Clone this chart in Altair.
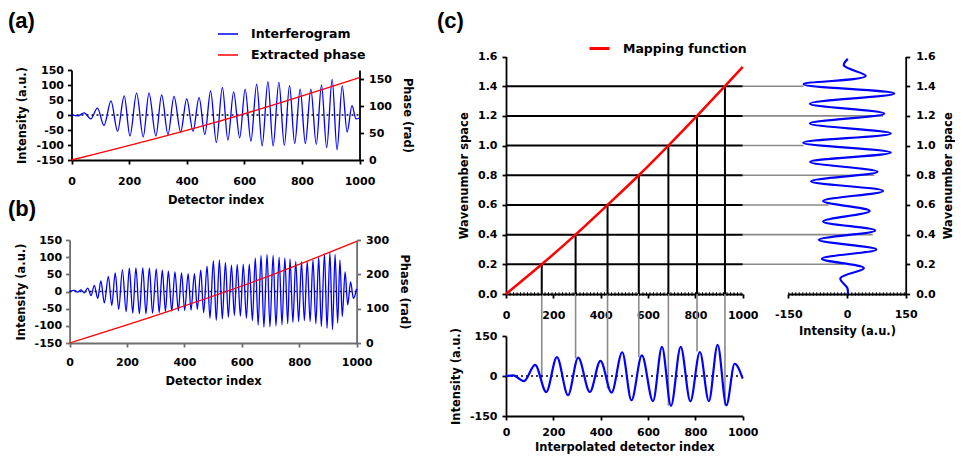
import altair as alt
import pandas as pd

# ---------------- data ----------------
# (a) interferogram: positions / values of successive extrema
a_idx = [0, 22, 44, 67, 90, 113, 137, 160, 183, 203,
         226, 249, 269, 293, 313, 335, 356, 379, 400, 422,
         443, 463, 483, 503, 524, 543, 563, 584, 603, 623,
         643, 662, 682, 700, 720, 739, 757, 775, 794, 812,
         831, 850, 868, 886, 905, 922, 940, 957, 974, 988, 1000]
a_int = [1, -3, 7, -13, 23, -35, 47, -54, 64, -70,
         73, -73, 73, -70, 67, -65, 62, -57, 54, -54,
         58, -65, 80, -92, 92, -84, 77, -76, 86, -87,
         103, -103, 111, -103, 109, -101, 98, -95, 86, -95,
         86, -98, 100, -109, 119, -116, 97, -57, 31, -13, -10]
a_phase_idx = [0, 490, 1000]
a_phase = [0, 68.5, 153]

# (b) interferogram
b_idx = [0, 16, 28, 40, 51, 63, 75, 86, 98, 109,
         121, 135, 147, 159, 171, 184, 197, 208, 220, 231,
         243, 255, 266, 278, 289, 302, 312, 323, 334, 344,
         356, 367, 379, 390, 401, 413, 423, 435, 445, 457,
         467, 479, 489, 501, 511, 522, 532, 543, 553, 564,
         574, 584, 595, 605, 616, 626, 637, 647, 657, 667,
         677, 688, 698, 709, 719, 730, 740, 750, 760, 768,
         778, 788, 798, 808, 818, 828, 838, 848, 858, 868,
         877, 888, 897, 907, 916, 925, 934, 942, 950, 960,
         969, 979, 989, 1000]
b_int = [0, 3, -2, 5, -4, 10, -12, 18, -20, 31,
         -33, 44, -41, 54, -52, 63, -59, 68, -63, 69,
         -65, 69, -65, 68, -63, 66, -62, 62, -58, 59,
         -57, 57, -56, 54, -55, 52, -54, 52, -52, 62,
         -62, 74, -78, 90, -84, 92, -80, 85, -75, 77,
         -70, 79, -72, 80, -78, 80, -85, 98, -98, 105,
         -104, 108, -103, 105, -100, 100, -97, 98, -94, 95,
         -90, 88, -88, 87, -85, 88, -88, 92, -94, 100,
         -102, 110, -107, 113, -111, 108, -92, 92, -73, 57,
         -39, 28, -20, 8]
b_phase_idx = [0, 336, 663, 1000]
b_phase = [0, 90, 185, 296]

# (c) mapping function
map_idx = [0, 151, 294, 429, 561, 686, 807, 925, 1000]
map_k = [0, 0.2, 0.4, 0.6, 0.8, 1.0, 1.2, 1.4, 1.53]
samp_idx = [151, 294, 429, 561, 686, 807, 925]
samp_k = [0.2, 0.4, 0.6, 0.8, 1.0, 1.2, 1.4]
samp_int = [-8, 66, -47, 70, -111, 92, -111]

# (c) bottom: resampled interferogram
c_idx = [0, 31, 76, 123, 170, 215, 262, 305, 354, 399, 446, 491, 530,
         574, 621, 659, 697, 738, 779, 819, 857, 894, 931, 966, 1000]
c_int = [0, 2, -19, 42, -60, 71, -72, 69, -60, 57, -62, 89, -91,
         77, -94, 109, -112, 109, -95, 90, -94, 117, -110, 46, -10]

# (c) right: interferogram in wavenumber space
r_k = [0, 0.04, 0.106, 0.174, 0.237, 0.30, 0.365, 0.428, 0.489, 0.559,
       0.626, 0.694, 0.759, 0.823, 0.89, 0.953, 1.019, 1.082, 1.149, 1.215,
       1.282, 1.35, 1.413, 1.469, 1.54, 1.584]
r_int = [2, 1, -17, 43, -64, 75, -72, 72, -61, 58,
         -61, 92, -92, 78, -94, 112, -112, 112, -95, 95,
         -95, 121, -111, 48, -8, 2]

# tick values
det_ticks = [0, 200, 400, 600, 800, 1000]
int_ticks_ab = [-150, -100, -50, 0, 50, 100, 150]
phase_ticks_a = [0, 50, 100, 150]
phase_ticks_b = [0, 100, 200, 300]
k_ticks = [0, 0.2, 0.4, 0.6, 0.8, 1.0, 1.2, 1.4, 1.6]
int_ticks_c = [-150, 0, 150]

# ---------------- layout (page pixels) ----------------
W, H, M = 947, 449, 8
FONT = "DejaVu Sans"
PA = dict(x0=71.5, x1=359.5, yt=70, yb=160)
PB = dict(x0=69.6, x1=356.6, yt=240, yb=343)
PC = dict(x0=506, x1=742.7, yt=56.5, yb=294)
PR = dict(x0=788.3, x1=905.7, yt=56.5, yb=294)
PD = dict(x0=506, x1=742.7, yt=336, yb=416)


def scale(domain, p0, p1):
    return alt.Scale(domain=domain, range=[p0 - M, p1 - M], nice=False, zero=False)


def axis(orient, pos, values, title, color="black", fmt=None, **kw):
    if orient == "bottom":
        off = (pos - M) - H
    elif orient == "left":
        off = -(pos - M)
    else:
        off = (pos - M) - W
    d = dict(orient=orient, offset=off, values=values, title=title,
             domainColor=color, tickColor=color, domainWidth=1.8, tickWidth=1.8,
             tickSize=4, labelFont=FONT, labelFontWeight="bold", labelFontSize=11,
             labelColor="black", titleFont=FONT, titleFontWeight="bold",
             titleFontSize=11.5, titleColor="black", grid=False,
             labelFlush=False, labelOverlap=False)
    d["labelExpr"] = f"format(datum.value, '{fmt}')" if fmt else "'' + datum.value"
    d.update(kw)
    return alt.Axis(**d)


def legend(x, y, sw):
    return alt.Legend(orient="none", legendX=x - M, legendY=y - M - 10, title=None,
                      symbolType="stroke", symbolSize=400, symbolStrokeWidth=sw,
                      labelFont=FONT, labelFontWeight="bold", labelFontSize=12.5,
                      labelColor="black", labelOffset=12, padding=0)


layers = []

# ---------- panel (a) ----------
xa = scale([0, 1000], PA["x0"], PA["x1"])
ya = scale([-150, 150], PA["yb"], PA["yt"])
pa = scale([0, 167], PA["yb"], PA["yt"])
dfa = pd.DataFrame({"idx": a_idx, "val": a_int, "s": "Interferogram"})
dfa_p = pd.DataFrame({"idx": a_phase_idx, "ph": a_phase, "s": "Extracted phase"})
zero_ab = pd.DataFrame({"x0": [0], "x1": [1000], "y": [0]})

layers.append(alt.Chart(zero_ab).mark_rule(color="black", strokeWidth=1.5, strokeDash=[2, 3]).encode(
    x=alt.X("x0:Q", scale=xa, axis=None), x2="x1:Q", y=alt.Y("y:Q", scale=ya, axis=None)))
layers.append(alt.Chart(dfa).mark_line(strokeWidth=1.3, interpolate="monotone").encode(
    x=alt.X("idx:Q", scale=xa, axis=axis("bottom", PA["yb"], det_ticks, "Detector index",
                                          labelPadding=11, titlePadding=8)),
    y=alt.Y("val:Q", scale=ya, axis=axis("left", PA["x0"], int_ticks_ab, "Intensity (a.u.)",
                                          labelPadding=4, titlePadding=8)),
    color=alt.Color("s:N", scale=alt.Scale(domain=["Interferogram"], range=["#0000ff"]),
                    legend=legend(217, 33, 1.5))))
layers.append(alt.Chart(dfa_p).mark_line(strokeWidth=1.3, interpolate="monotone").encode(
    x=alt.X("idx:Q", scale=xa, axis=None),
    y=alt.Y("ph:Q", scale=pa, axis=axis("right", PA["x1"], phase_ticks_a, "Phase (rad)",
                                         labelPadding=5, titlePadding=10)),
    color=alt.Color("s:N", scale=alt.Scale(domain=["Extracted phase"], range=["#ff0000"]),
                    legend=legend(217, 54, 1.5))))

# ---------- panel (b) ----------
xb = scale([0, 1000], PB["x0"], PB["x1"])
yb = scale([-150, 150], PB["yb"], PB["yt"])
pb = scale([0, 300], PB["yb"], PB["yt"])
dfb = pd.DataFrame({"idx": b_idx, "val": b_int})
dfb_p = pd.DataFrame({"idx": b_phase_idx, "ph": b_phase})
GB = "#6e6e6e"
layers.append(alt.Chart(zero_ab).mark_rule(color="black", strokeWidth=1.5, strokeDash=[2, 3]).encode(
    x=alt.X("x0:Q", scale=xb, axis=None), x2="x1:Q", y=alt.Y("y:Q", scale=yb, axis=None)))
layers.append(alt.Chart(dfb).mark_line(strokeWidth=1.3, color="#0000ff", interpolate="monotone").encode(
    x=alt.X("idx:Q", scale=xb, axis=axis("bottom", PB["yb"], det_ticks, "Detector index", color=GB,
                                          labelPadding=9, titlePadding=8)),
    y=alt.Y("val:Q", scale=yb, axis=axis("left", PB["x0"], int_ticks_ab, "Intensity (a.u.)", color=GB,
                                          labelPadding=4, titlePadding=8))))
layers.append(alt.Chart(dfb_p).mark_line(strokeWidth=1.3, color="#ff0000", interpolate="monotone").encode(
    x=alt.X("idx:Q", scale=xb, axis=None),
    y=alt.Y("ph:Q", scale=pb, axis=axis("right", PB["x1"], phase_ticks_b, "Phase (rad)", color=GB,
                                         labelPadding=5, titlePadding=10))))

# ---------- panel (c) main ----------
xc = scale([0, 1000], PC["x0"], PC["x1"])
yc = scale([0, 1.6], PC["yb"], PC["yt"])
dfs = pd.DataFrame({"idx": samp_idx, "k": samp_k, "val": samp_int,
                    "x0": 0, "x1": 1000, "k0": 0.0})
dfm = pd.DataFrame({"idx": map_idx, "k": map_k, "s": "Mapping function"})

# right panel scales
xr = scale([-150, 150], PR["x0"], PR["x1"])
yr = scale([0, 1.6], PR["yb"], PR["yt"])
# bottom panel scales
xd = scale([0, 1000], PD["x0"], PD["x1"])
yd = scale([-150, 150], PD["yb"], PD["yt"])

# connector extents (from the main plot's edges into the side panels)
ext_r = -150 - (PR["x0"] - PC["x1"]) * 300 / (PR["x1"] - PR["x0"])
ext_d = 150 + (PD["yt"] - PC["yb"]) * 300 / (PD["yb"] - PD["yt"])
dfs["er"] = ext_r
dfs["ed"] = ext_d

GRAY = "#8a8a8a"
layers.append(alt.Chart(dfs).mark_rule(color=GRAY, strokeWidth=1.6).encode(
    x=alt.X("er:Q", scale=xr, axis=None), x2="val:Q", y=alt.Y("k:Q", scale=yr, axis=None)))
layers.append(alt.Chart(dfs).mark_rule(color=GRAY, strokeWidth=1.6).encode(
    x=alt.X("idx:Q", scale=xd, axis=None), y=alt.Y("ed:Q", scale=yd, axis=None), y2="val:Q"))

layers.append(alt.Chart(dfs).mark_rule(color="black", strokeWidth=2).encode(
    x=alt.X("x0:Q", scale=xc, axis=axis("bottom", PC["yb"], det_ticks, None, labelPadding=11)),
    x2="x1:Q",
    y=alt.Y("k:Q", scale=yc, axis=axis("left", PC["x0"], k_ticks, "Wavenumber space", fmt=".1f",
                                        labelPadding=5, titlePadding=8))))
layers.append(alt.Chart(dfs).mark_rule(color="black", strokeWidth=2).encode(
    x=alt.X("idx:Q", scale=xc, axis=None), y=alt.Y("k0:Q", scale=yc, axis=None), y2="k:Q"))
zero_c = pd.DataFrame({"x0": [0], "x1": [1000], "y": [0]})
layers.append(alt.Chart(zero_c).mark_rule(color="black", strokeWidth=3.5, strokeDash=[1, 2.5]).encode(
    x=alt.X("x0:Q", scale=xc, axis=None), x2="x1:Q", y=alt.Y("y:Q", scale=yc, axis=None)))
layers.append(alt.Chart(dfm).mark_line(strokeWidth=2.5, interpolate="monotone").encode(
    x=alt.X("idx:Q", scale=xc, axis=None), y=alt.Y("k:Q", scale=yc, axis=None),
    color=alt.Color("s:N", scale=alt.Scale(domain=["Mapping function"], range=["#ff0000"]),
                    legend=legend(588, 47, 3))))

# ---------- panel (c) right ----------
zero_r = pd.DataFrame({"x0": [-150], "x1": [150], "y": [0]})
layers.append(alt.Chart(zero_r).mark_rule(color="black", strokeWidth=3.5, strokeDash=[1, 2.5]).encode(
    x=alt.X("x0:Q", scale=xr, axis=None), x2="x1:Q", y=alt.Y("y:Q", scale=yr, axis=None)))
dfr = pd.DataFrame({"val": r_int, "k": r_k})
layers.append(alt.Chart(dfr).mark_line(strokeWidth=2.2, color="#0000ff", interpolate="catmull-rom").encode(
    x=alt.X("val:Q", scale=xr, axis=axis("bottom", PR["yb"], int_ticks_c, "Intensity (a.u.)",
                                          labelPadding=10, titlePadding=6)),
    y=alt.Y("k:Q", scale=yr, axis=axis("right", PR["x1"], k_ticks, "Wavenumber space", fmt=".1f",
                                        labelPadding=6, titlePadding=18, titleAngle=270)),
    order=alt.Order("k:Q")))

# ---------- panel (c) bottom ----------
dfd = pd.DataFrame({"idx": c_idx, "val": c_int})
layers.append(alt.Chart(zero_c).mark_rule(color="black", strokeWidth=1.5, strokeDash=[2, 3]).encode(
    x=alt.X("x0:Q", scale=xd, axis=None), x2="x1:Q", y=alt.Y("y:Q", scale=yd, axis=None)))
layers.append(alt.Chart(dfd).mark_line(strokeWidth=2.2, color="#0000ff", interpolate="monotone").encode(
    x=alt.X("idx:Q", scale=xd, axis=axis("bottom", PD["yb"], det_ticks, "Interpolated detector index",
                                          labelPadding=6, titlePadding=4)),
    y=alt.Y("val:Q", scale=yd, axis=axis("left", PD["x0"], int_ticks_c, "Intensity (a.u.)",
                                          labelPadding=5, titlePadding=8))))

# ---------- panel labels ----------
for lab, lx, ly in [("(a)", 8, 28), ("(b)", 8, 216), ("(c)", 437, 28)]:
    layers.append(alt.Chart(pd.DataFrame({"t": [lab]})).mark_text(
        font="Liberation Sans", fontWeight="bold", fontSize=22, align="left",
        baseline="alphabetic", color="black").encode(
        x=alt.value(lx - M), y=alt.value(ly - M), text="t:N"))

chart = alt.layer(*layers).resolve_scale(
    x="independent", y="independent", color="independent"
).resolve_axis(x="independent", y="independent").resolve_legend(color="independent").properties(
    width=W, height=H, autosize=alt.AutoSizeParams(type="none"), padding=0
).configure_view(strokeWidth=0)

chart.save("out.html", embed_options={"renderer": "svg", "actions": False})
